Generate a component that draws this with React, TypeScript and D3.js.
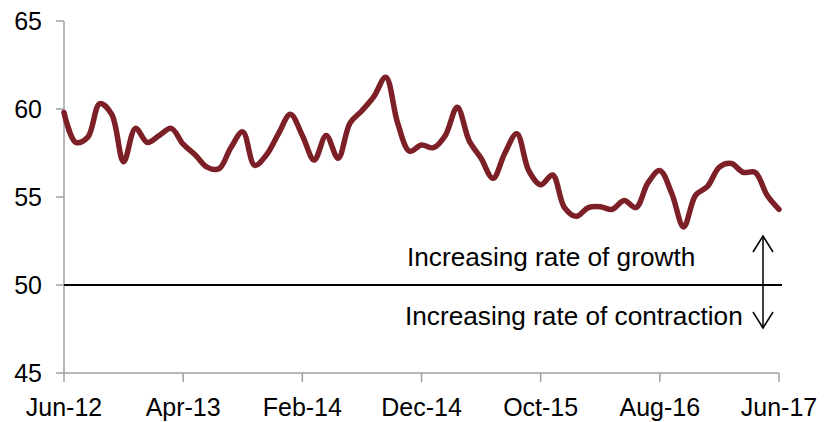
import React from 'react';
import * as d3 from 'd3';

const values: number[] = [
  59.8, 58.1, 58.4, 60.3, 59.7, 57.0, 58.9, 58.1, 58.5, 58.9,
  58.0, 57.4, 56.7, 56.6, 57.8, 58.7, 56.8, 57.4, 58.6, 59.7,
  58.5, 57.1, 58.5, 57.2, 59.2, 59.9, 60.7, 61.8, 59.2, 57.6,
  57.95, 57.8, 58.5, 60.1, 58.2, 57.2, 56.06, 57.5, 58.6, 56.5,
  55.7, 56.25, 54.4, 53.9, 54.4, 54.45, 54.3, 54.8, 54.4, 55.8,
  56.5, 55.2, 53.3, 55.1, 55.6, 56.7, 56.9, 56.4, 56.4, 55.1,
  54.3,
];

const xTickIndex: number[] = [0, 10, 20, 30, 40, 50, 60];
const xTickLabels: string[] = ['Jun-12', 'Apr-13', 'Feb-14', 'Dec-14', 'Oct-15', 'Aug-16', 'Jun-17'];
const yTicks: number[] = [45, 50, 55, 60, 65];
const thresholdValue = 50;
const labelAbove = 'Increasing rate of growth';
const labelBelow = 'Increasing rate of contraction';

export default function App() {
  const W = 828;
  const H = 422;
  const x = d3.scaleLinear().domain([0, values.length - 1]).range([64, 779]);
  const y = d3.scaleLinear().domain([45, 65]).range([373, 21]);
  const line = d3
    .line<number>()
    .x((_, i) => x(i))
    .y((d) => y(d))
    .curve(d3.curveCatmullRom.alpha(0.5));
  const font = 'Liberation Sans, Arial, sans-serif';
  const axisColor = '#a0a0a0';
  const yT = y(thresholdValue);
  const ax = 763;
  return (
    <svg
      width={W}
      height={H}
      style={{ position: 'absolute', left: 0, top: 0, background: '#fff' }}
      fontFamily={font}
    >
      {/* y axis */}
      <line x1={x(0)} x2={x(0)} y1={y(65)} y2={y(45)} stroke={axisColor} strokeWidth={1.5} />
      {yTicks.map((t) => (
        <g key={t}>
          <line x1={56} x2={x(0)} y1={y(t)} y2={y(t)} stroke={axisColor} strokeWidth={1.5} />
          <text x={42} y={y(t)} dy="0.36em" textAnchor="end" fontSize={25} fill="#000">
            {t}
          </text>
        </g>
      ))}
      {/* x axis */}
      <line x1={x(0)} x2={x(60)} y1={y(45)} y2={y(45)} stroke={axisColor} strokeWidth={1.5} />
      {xTickIndex.map((ti, k) => (
        <g key={ti}>
          <line x1={x(ti)} x2={x(ti)} y1={y(45)} y2={y(45) + 9} stroke={axisColor} strokeWidth={1.5} />
          <text x={x(ti)} y={416} textAnchor="middle" fontSize={25} fill="#000">
            {xTickLabels[k]}
          </text>
        </g>
      ))}
      {/* threshold */}
      <line x1={x(0)} x2={782} y1={yT} y2={yT} stroke="#000" strokeWidth={2} />
      <text x={407} y={266} fontSize={26.2} fill="#000">{labelAbove}</text>
      <text x={405} y={325} fontSize={26.2} fill="#000">{labelBelow}</text>
      {/* arrow */}
      <g stroke="#000" strokeWidth={1.5} fill="none">
        <line x1={ax} x2={ax} y1={236} y2={328} />
        <polyline points={`${ax - 10},252 ${ax},236 ${ax + 10},252`} />
        <polyline points={`${ax - 10},312 ${ax},328 ${ax + 10},312`} />
      </g>
      {/* data line */}
      <path
        d={line(values) || ''}
        fill="none"
        stroke="#7c1f27"
        strokeWidth={5.5}
        strokeLinejoin="round"
        strokeLinecap="round"
      />
    </svg>
  );
}
